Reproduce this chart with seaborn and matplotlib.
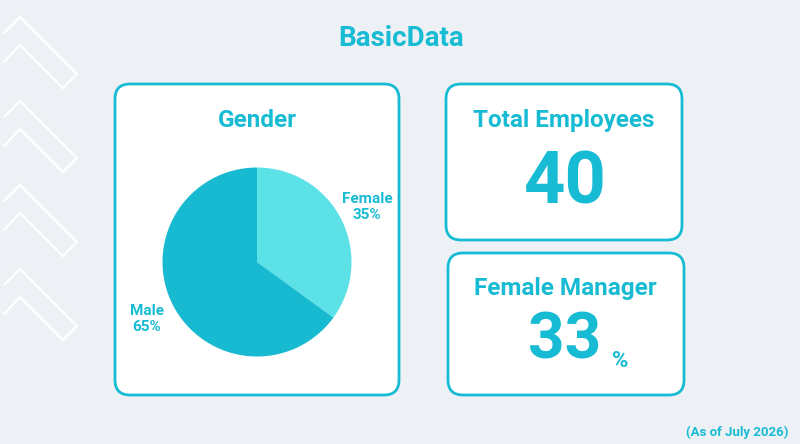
import matplotlib.pyplot as plt
import seaborn as sns
from matplotlib.patches import FancyBboxPatch
from matplotlib.lines import Line2D

# --- Data ---
genders = ["Female", "Male"]
gender_share = [35, 65]
total_employees = 40
female_manager_pct = 33
as_of = "(As of July 2026)"

# --- Style ---
sns.set_theme(style="white")
plt.rcParams["font.family"] = ["Roboto", "DejaVu Sans"]

BG = "#edf1f5"
ACCENT = "#17bbd3"
pie_colors = sns.color_palette(["#5ce1e6", "#17bad0"])

fig = plt.figure(figsize=(8, 4.44), dpi=100)
fig.patch.set_facecolor(BG)

# Full-figure canvas in pixel units (y downwards)
bg = fig.add_axes([0, 0, 1, 1])
bg.set_xlim(0, 800)
bg.set_ylim(444, 0)
bg.axis("off")
bg.set_facecolor(BG)

# Decorative chevrons on the left
for k in range(4):
    oy = 84 * k
    xs = [4, 20, 77, 63, 20, 4]
    ys = [33, 17, 74, 88, 45, 62]
    bg.add_line(Line2D(xs, [y + oy for y in ys], color="white", lw=1.6,
                       solid_joinstyle="miter"))

# Cards
def card(x0, y0, x1, y1):
    bg.add_patch(FancyBboxPatch((x0, y0), x1 - x0, y1 - y0,
                                boxstyle="round,pad=0,rounding_size=15",
                                facecolor="white", edgecolor=ACCENT, lw=2))

card(115, 84, 399, 395)
card(446, 84, 682, 240)
card(448, 253, 684, 395)

# Titles and figures
title_kw = dict(ha="center", va="center", fontweight="bold", color=ACCENT)
bg.text(401, 38, "BasicData", fontsize=20, **title_kw)
bg.text(257, 120, "Gender", fontsize=17.5, **title_kw)
bg.text(564, 120, "Total Employees", fontsize=17.5, **title_kw)
bg.text(564, 184, f"{total_employees}", fontsize=52, **title_kw)
bg.text(565, 288, "Female Manager", fontsize=17.5, **title_kw)
bg.text(565, 341, f"{female_manager_pct}", fontsize=46, **title_kw)
bg.text(620, 361, "%", fontsize=16, **title_kw)
bg.text(788, 432, as_of, ha="right", va="center", fontsize=9.5,
        fontweight="bold", color=ACCENT)

# Pie chart
cx, cy, r = 257, 262, 94.5
pie_ax = fig.add_axes([(cx - r) / 800, (444 - cy - r) / 444, 2 * r / 800, 2 * r / 444])
pie_ax.pie(gender_share, colors=pie_colors, startangle=90, counterclock=False,
           radius=1, wedgeprops=dict(linewidth=0))
pie_ax.set_xlim(-1, 1)
pie_ax.set_ylim(-1, 1)
pie_ax.axis("off")

# Slice labels
label_pos = {"Female": (367, 207), "Male": (147, 319)}
for name, share in zip(genders, gender_share):
    lx, ly = label_pos[name]
    bg.text(lx, ly, f"{name}\n{share}%", ha="center", va="center", fontsize=11,
            fontweight="bold", color=ACCENT, linespacing=1.15)

fig.savefig("out.png", dpi=100, facecolor=BG)
